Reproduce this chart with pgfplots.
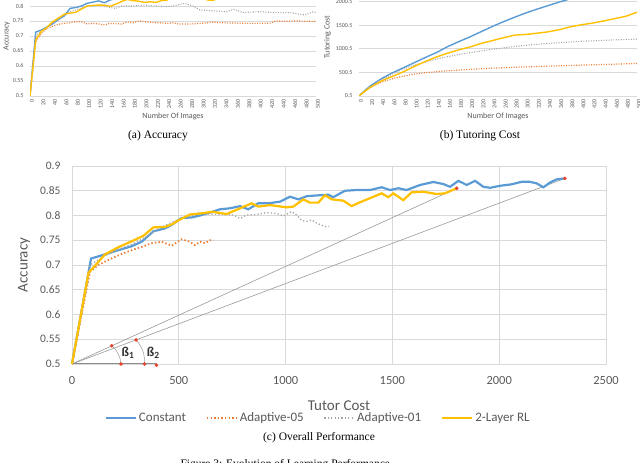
\documentclass[border=0pt]{standalone}
\usepackage{fontspec}
\setmainfont{Liberation Serif}
\newfontfamily\carl{Carlito}
\usepackage{pgfplots}
\pgfplotsset{compat=1.18}
\definecolor{cblue}{HTML}{5B9BD5}
\definecolor{corange}{HTML}{ED7D31}
\definecolor{cgray}{HTML}{A5A5A5}
\definecolor{cgold}{HTML}{FFC000}
\definecolor{gridc}{HTML}{D9D9D9}
\definecolor{txt}{HTML}{595959}
\definecolor{cred}{HTML}{E8412C}

\pgfplotsset{
  small/.style={anchor=south west, scale only axis, clip=true,
    xmin=0, xmax=500, xtick={0,20,...,500},
    ymajorgrids, grid style={gridc, line width=0.6pt},
    axis line style={draw=none}, major tick length=0pt,
    /pgf/number format/assume math mode=true,
    /pgf/number format/1000 sep={}, scaled ticks=false,
    ticklabel style={font=\carl\fontsize{6}{7}\selectfont, text=txt},
    xticklabel style={rotate=90, anchor=east, xshift=0pt, yshift=-2pt},
    yticklabel style={anchor=east, xshift=-3pt},
    label style={font=\carl\fontsize{8}{9}\selectfont, text=txt},
  },
}

\begin{document}
\begin{tikzpicture}[x=1pt,y=1pt]
\useasboundingbox (0pt,0pt) rectangle (640pt,463pt);
\clip (0pt,0pt) rectangle (640pt,463pt);

% (a) Accuracy
\begin{axis}[small, at={(30pt,367pt)}, width=286pt, height=120pt,
  ymin=0.5, ymax=0.9,
  ytick={0.5,0.55,0.6,0.65,0.7,0.75,0.8,0.85,0.9},
  yticklabels={0.5,0.55,0.6,0.65,0.7,0.75,0.8,0.85,0.9},
  xlabel={Number Of Images}, ylabel={Accuracy},
  xlabel style={yshift=3pt}, ylabel style={yshift=-4pt}]
\addplot[cblue, line width=1.4pt] coordinates {
 (0,0.5)(10,0.713)(20,0.72)(30,0.73)(40,0.741)(50,0.755)(60,0.767)(70,0.792)(80,0.795)
 (90,0.80)(100,0.809)(110,0.813)(120,0.817)(130,0.811)(140,0.82)(150,0.825)(160,0.824)
 (170,0.825)(180,0.83)(190,0.838)(200,0.833)(210,0.839)(220,0.84)(230,0.842)(240,0.837)
 (250,0.85)(260,0.8515)(270,0.851)(280,0.857)(290,0.852)(300,0.855)(310,0.852)(320,0.862)
 (340,0.868)(350,0.864)(360,0.858)(370,0.870)(380,0.862)(390,0.870)(400,0.858)(410,0.856)
 (420,0.86)(430,0.863)(440,0.868)(450,0.868)(460,0.865)(470,0.857)(480,0.867)(490,0.873)(500,0.875)};
\addplot[corange, line width=1.2pt, dash pattern=on 1pt off 1.5pt] coordinates {
 (0,0.5)(10,0.68)(20,0.709)(30,0.726)(40,0.733)(50,0.739)(60,0.742)(70,0.744)(80,0.748)
 (90,0.747)(100,0.74)(110,0.742)(120,0.74)(130,0.737)(140,0.742)(150,0.741)(160,0.74)
 (170,0.747)(180,0.744)(190,0.75)(200,0.748)(210,0.746)(220,0.744)(230,0.744)(240,0.742)
 (250,0.744)(260,0.74)(270,0.74)(280,0.74)(290,0.741)(300,0.742)(320,0.746)(340,0.744)
 (360,0.743)(380,0.742)(400,0.742)(420,0.743)(430,0.75)(450,0.749)(465,0.751)(480,0.749)(490,0.749)(500,0.748)};
\addplot[cgray, line width=1.1pt, dash pattern=on 1pt off 1.5pt] coordinates {
 (0,0.5)(10,0.70)(20,0.718)(30,0.73)(40,0.742)(50,0.755)(60,0.768)(70,0.78)(80,0.787)
 (90,0.793)(100,0.80)(110,0.80)(120,0.803)(130,0.80)(140,0.795)(150,0.792)(160,0.80)
 (180,0.80)(200,0.803)(220,0.80)(240,0.798)(250,0.80)(270,0.809)(285,0.80)(297,0.787)
 (320,0.784)(344,0.781)(356,0.789)(373,0.778)(400,0.781)(430,0.778)(455,0.778)(470,0.773)
 (481,0.770)(495,0.781)(500,0.778)};
\addplot[cgold, line width=1.4pt] coordinates {
 (0,0.5)(10,0.687)(20,0.716)(30,0.729)(40,0.748)(50,0.76)(60,0.773)(70,0.776)(80,0.779)
 (90,0.79)(100,0.80)(110,0.802)(120,0.803)(130,0.803)(140,0.799)(150,0.806)(160,0.815)
 (170,0.822)(180,0.818)(190,0.816)(200,0.812)(210,0.814)(220,0.812)(230,0.818)(240,0.82)
 (250,0.833)(260,0.826)(270,0.826)(280,0.841)(290,0.833)(300,0.83)(310,0.82)(320,0.819)
 (330,0.827)(350,0.845)(360,0.837)(370,0.845)(380,0.831)(390,0.847)(410,0.848)(430,0.843)
 (450,0.845)(470,0.85)(500,0.855)};
\end{axis}

% (b) Tutoring Cost
\begin{axis}[small, at={(359pt,367pt)}, width=278pt, height=118pt,
  ymin=0.5, ymax=2500.5,
  ytick={0.5,500.5,1000.5,1500.5,2000.5,2500.5},
  yticklabels={0.5,500.5,1000.5,1500.5,2000.5,2500.5},
  xlabel={Number Of Images}, ylabel={Tutoring Cost},
  xlabel style={yshift=3pt}, ylabel style={yshift=-2pt}]
\addplot[cblue, line width=1.4pt] coordinates {
 (0,0.5)(10,110)(20,211)(30,290)(40,365)(50,430)(60,490)(80,600)(100,710)(120,820)
 (140,925)(160,1050)(180,1155)(200,1255)(220,1365)(240,1475)(260,1575)(280,1670)
 (300,1760)(320,1840)(340,1915)(360,1990)(380,2060)(400,2120)(450,2230)(500,2308)};
\addplot[corange, line width=1.2pt, dash pattern=on 1pt off 1.5pt] coordinates {
 (0,0.5)(10,100)(20,180)(30,235)(40,290)(50,330)(60,365)(70,395)(80,420)(90,445)
 (100,465)(120,495)(140,515)(160,535)(180,550)(200,565)(240,590)(280,610)(320,625)
 (360,640)(400,655)(440,668)(480,682)(500,690)};
\addplot[cgray, line width=1.1pt, dash pattern=on 1pt off 1.5pt] coordinates {
 (0,0.5)(10,105)(20,195)(30,270)(40,340)(50,405)(60,465)(70,520)(80,570)(90,615)
 (100,655)(110,690)(120,725)(130,755)(140,785)(150,810)(160,835)(170,858)(180,880)
 (190,900)(200,920)(220,955)(240,990)(260,1020)(280,1050)(300,1075)(320,1095)
 (340,1115)(360,1130)(380,1145)(400,1160)(420,1170)(440,1180)(460,1190)(480,1197)(500,1204)};
\addplot[cgold, line width=1.4pt] coordinates {
 (0,0.5)(10,95)(20,183)(30,250)(40,315)(50,370)(60,415)(80,514)(100,630)(120,735)
 (140,830)(160,910)(180,980)(200,1040)(220,1115)(240,1175)(260,1235)(280,1290)
 (300,1305)(320,1330)(340,1360)(360,1405)(380,1465)(400,1510)(420,1545)(440,1590)
 (460,1640)(480,1690)(500,1775)};
\end{axis}

\node[font=\fontsize{11.5}{13}\selectfont] at (158pt,327pt) {(a) Accuracy};
\node[font=\fontsize{11.5}{13}\selectfont] at (480pt,327pt) {(b) Tutoring Cost};

% (c) Overall Performance
\begin{axis}[anchor=south west, at={(72pt,99pt)}, scale only axis, width=534pt, height=198pt,
  clip=false,
  xmin=0, xmax=2500, ymin=0.5, ymax=0.9,
  xtick={0,500,1000,1500,2000,2500},
  ytick={0.5,0.55,0.6,0.65,0.7,0.75,0.8,0.85,0.9},
  yticklabels={0.5,0.55,0.6,0.65,0.7,0.75,0.8,0.85,0.9},
  grid=major, grid style={gridc, line width=0.8pt},
  axis line style={gridc, line width=0.8pt}, major tick length=0pt,
  /pgf/number format/assume math mode=true,
  /pgf/number format/1000 sep={}, scaled ticks=false,
  yticklabel style={font=\carl\fontsize{11.5}{12}\selectfont, text=txt, anchor=east, xshift=-8pt},
  xticklabel style={font=\carl\fontsize{12.5}{14}\selectfont, text=txt, yshift=-9pt},
  legend columns=4,
  legend style={at={(axis description cs:0.461,-0.272)}, anchor=center, draw=none, fill=none,
    font=\carl\fontsize{13}{15}\selectfont, text=txt,
    /tikz/every even column/.append style={column sep=18pt}},
  legend image code/.code={\draw[#1] (0pt,0pt) -- (30pt,0pt);},
]
\addplot[forget plot, color=black!40, line width=0.6pt] coordinates {(0,0.5)(1801,0.855)};
\addplot[forget plot, color=black!40, line width=0.6pt] coordinates {(0,0.5)(2308,0.875)};
\addplot[forget plot, color=black!45, line width=1pt] coordinates {(0,0.5)(396,0.5)};
\addplot[cblue, line width=2.2pt] coordinates {
 (0,0.5)(89,0.713)(155,0.7216)(217,0.730)(280,0.738)(326,0.747)(381,0.768)(435,0.774)
 (467,0.781)(513,0.795)(560,0.796)(599,0.800)(646,0.806)(693,0.8125)(740,0.8146)(787,0.819)
 (825,0.8125)(872,0.8246)(927,0.825)(974,0.828)(1021,0.838)(1060,0.8326)(1099,0.839)
 (1161,0.841)(1200,0.842)(1223,0.837)(1278,0.850)(1333,0.8515)(1395,0.8515)(1450,0.857)
 (1489,0.8515)(1528,0.855)(1567,0.8515)(1629,0.8616)(1692,0.8677)(1738,0.8636)(1770,0.858)
 (1809,0.870)(1848,0.8616)(1887,0.870)(1926,0.858)(1957,0.856)(2004,0.860)(2058,0.863)
 (2105,0.868)(2144,0.868)(2175,0.865)(2207,0.857)(2238,0.8667)(2269,0.873)(2308,0.875)};
\addlegendentry{Constant}
\addplot[corange, line width=1.8pt, dash pattern=on 1.4pt off 2.2pt] coordinates {
 (0,0.5)(84,0.686)(123,0.700)(186,0.7135)(230,0.722)(280,0.730)(330,0.737)(373,0.744)
 (420,0.747)(467,0.739)(513,0.752)(552,0.747)(576,0.740)(599,0.747)(623,0.744)(646,0.750)(662,0.750)};
\addlegendentry{Adaptive-05}
\addplot[cgray, line width=1.4pt, dash pattern=on 1.2pt off 2.2pt] coordinates {
 (0,0.5)(85,0.70)(150,0.718)(210,0.73)(280,0.742)(340,0.755)(400,0.772)(460,0.785)
 (500,0.792)(552,0.798)(599,0.806)(646,0.803)(708,0.802)(755,0.801)(787,0.794)(818,0.801)
 (865,0.802)(911,0.806)(958,0.804)(990,0.799)(1028,0.808)(1052,0.801)(1075,0.790)
 (1099,0.788)(1122,0.791)(1153,0.783)(1192,0.777)(1204,0.778)};
\addlegendentry{Adaptive-01}
\addplot[cgold, line width=2.2pt] coordinates {
 (0,0.5)(77,0.684)(155,0.7216)(217,0.736)(280,0.748)(334,0.759)(381,0.776)(435,0.777)
 (467,0.782)(506,0.792)(552,0.802)(599,0.804)(662,0.8077)(677,0.806)(724,0.803)(787,0.8146)
 (841,0.8246)(872,0.818)(927,0.821)(1005,0.8165)(1036,0.818)(1083,0.8326)(1114,0.826)
 (1153,0.826)(1184,0.841)(1216,0.8326)(1270,0.830)(1309,0.819)(1348,0.8266)(1450,0.8448)
 (1481,0.837)(1504,0.8448)(1551,0.831)(1590,0.8468)(1645,0.848)(1707,0.8434)(1746,0.8448)(1801,0.855)};
\addlegendentry{2-Layer RL}
\draw[black!40, line width=0.5pt] (186,0.5367) to[bend left=22] (229,0.5);
\draw[black!40, line width=0.5pt] (300,0.5487) to[bend left=22] (339,0.5);
\addplot[forget plot, only marks, mark=*, mark size=1.6pt, cred] coordinates {
 (1801,0.855)(2308,0.875)(186,0.5367)(300,0.5487)(229,0.5)(339,0.5)(396,0.4975)};
\node[font=\carl\bfseries\fontsize{13.5}{15}\selectfont, text=black!80] at (262,0.5225) {ß\textsubscript{1}};
\node[font=\carl\bfseries\fontsize{13.5}{15}\selectfont, text=black!80] at (381,0.5225) {ß\textsubscript{2}};
\end{axis}

\node[rotate=90, font=\carl\fontsize{15}{17}\selectfont, text=txt] at (24pt,198pt) {Accuracy};
\node[font=\carl\fontsize{15}{17}\selectfont, text=txt] at (339pt,57pt) {Tutor Cost};
\node[font=\fontsize{11.5}{13}\selectfont] at (319pt,25pt) {(c) Overall Performance};
\node[anchor=west, font=\fontsize{11.5}{13}\selectfont] at (177pt,-2pt) {Figure 3: Evolution of Learning Performance};
\end{tikzpicture}
\end{document}
